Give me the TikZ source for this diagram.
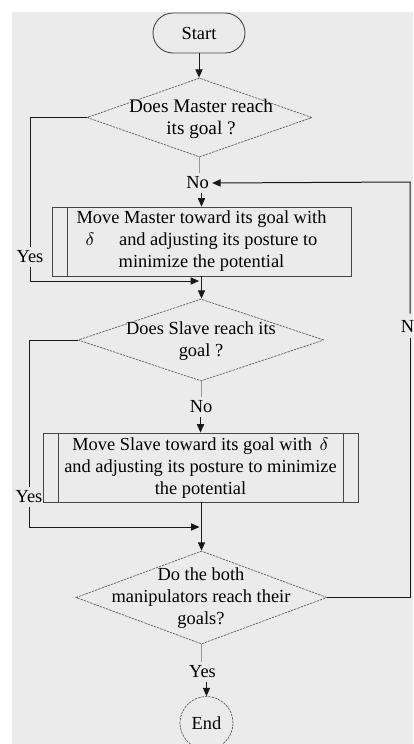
\documentclass[tikz,border=0pt]{standalone}
\usepackage{fontspec}
\setmainfont{Liberation Serif}
\usetikzlibrary{shapes.geometric,arrows.meta}
\definecolor{bgc}{RGB}{235,235,235}
\definecolor{dgc}{RGB}{95,95,95}
\definecolor{bxc}{RGB}{70,70,70}
\definecolor{lnc}{RGB}{25,25,25}
\definecolor{glc}{RGB}{150,150,150}
\newcommand{\tfont}{\fontsize{9.2}{11}\selectfont}
\tikzset{
  dia/.style={diamond, draw=dgc, line width=0.35pt, dash pattern=on 1.2pt off 0.5pt, inner sep=0pt},
  txt/.style={align=center, inner sep=0pt, font=\tfont, text=black},
  procbox/.style={draw=bxc, line width=0.45pt, inner sep=0pt},
  lbl/.style={inner sep=1.5pt, font=\tfont},
  conn/.style={draw=lnc, line width=0.5pt},
  arr/.style={conn, -{Triangle[width=3.6pt,length=4.2pt]}},
  gconn/.style={draw=glc, line width=0.45pt},
}
\begin{document}
\begin{tikzpicture}[x=0.5pt,y=-0.5pt]
\useasboundingbox (0,0) rectangle (413,744);
\fill[bgc] (12,12) rectangle (413,744);

% Start
\node[draw=bxc, line width=0.45pt, rounded corners=10pt, minimum width=46pt, minimum height=20pt, inner sep=0pt, font=\tfont] (s) at (199,33) {Start};

% Decision 1
\node[dia, minimum width=112.5pt, minimum height=39.5pt] (d1) at (199.5,117.5) {};
\node[txt, font=\fontsize{9.6}{11}\selectfont] (t1) at (201,119) {Does Master reach\\its goal ?};

\node[lbl] (no1) at (197.5,183) {No};

% Box 1
\node[procbox, minimum width=149.5pt, minimum height=34.5pt] (b1) at (201.5,241.5) {};
\draw[bxc, line width=0.45pt] ([xshift=8pt]b1.north west) -- ([xshift=8pt]b1.south west);
\node[txt] (t2) at (201.5,240.7) {Move Master toward its goal with\\$\delta$\hspace{10pt} and adjusting its posture to\\minimize the potential};

\node[lbl] (y1) at (30,257) {Yes};
\coordinate (j1) at (199,281);

% Decision 2
\node[dia, minimum width=123pt, minimum height=41pt] (d2) at (201,340) {};
\node[txt] (t3) at (201,341) {Does Slave reach its\\goal ?};

\node[lbl] (no2) at (201,407) {No};

% Box 2
\node[procbox, minimum width=157.5pt, minimum height=34.5pt] (b2) at (200.5,467.5) {};
\draw[bxc, line width=0.45pt] ([xshift=8pt]b2.north west) -- ([xshift=8pt]b2.south west);
\draw[bxc, line width=0.45pt] ([xshift=-7.5pt]b2.north east) -- ([xshift=-7.5pt]b2.south east);
\node[txt] (t4) at (200.5,468) {Move Slave toward its goal with\, $\delta$\\and adjusting its posture to minimize\\the potential};

\node[lbl] (y2) at (29,497) {Yes};
\coordinate (j2) at (199.5,527);

% Decision 3
\node[dia, minimum width=125.5pt, minimum height=46.5pt] (d3) at (201.5,597.5) {};
\node[txt] (t5) at (201,598) {Do the both\\manipulators reach their\\goals?};

\node[lbl] (y3) at (202.5,672) {Yes};

% End
\node[circle, draw=dgc, line width=0.35pt, dash pattern=on 1.2pt off 0.5pt, minimum size=26.5pt, inner sep=0pt, font=\tfont] (e) at (206.5,723) {End};

% right loop label
\node[lbl, anchor=east, inner xsep=0pt, inner ysep=3pt] (nr) at (414.5,326) {N};
\coordinate (rc) at (410,182);

% connectors
\draw[arr] (s.south) -- (s.south |- d1.north);
\draw[gconn] (d1.south) -- (d1.south |- no1.north);
\draw[arr] (b1.north |- no1.south) -- (b1.north);
\draw[conn] (d1.west) -| (y1.north);
\draw[arr] (y1.south) |- (j1);
\draw[arr] (b1.south) -- (b1.south |- d2.north);
\draw[gconn] (d2.south) -- (d2.south |- no2.north);
\draw[arr] (b2.north |- no2.south) -- (b2.north);
\draw[conn] (d2.west) -| (y2.north);
\draw[arr] (y2.south) |- (j2);
\draw[arr] (b2.south -| d3.north) -- (d3.north);
\draw[gconn] (d3.south) -- (d3.south |- y3.north);
\draw[arr] (e.north |- y3.south) -- (e.north);
\draw[conn] (d3.east) -| (rc |- nr.south);
\draw[arr] (rc |- nr.north) -- (rc) -- (no1.east);
\end{tikzpicture}
\end{document}
